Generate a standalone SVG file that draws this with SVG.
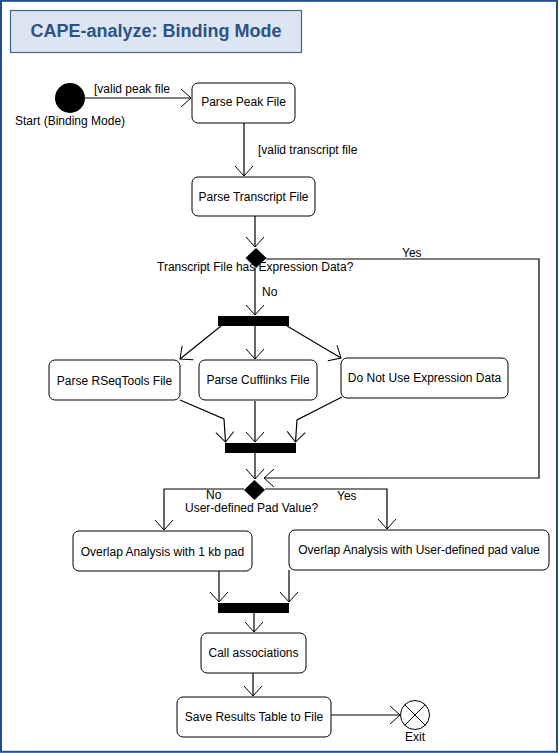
<svg xmlns="http://www.w3.org/2000/svg" width="559" height="753" viewBox="0 0 559 753">
<style>
.t{font-family:"Liberation Sans",Arial,sans-serif;font-size:12px;fill:#000}
.box{fill:#fff;stroke:#000;stroke-width:1}
.bar{fill:#000}
.ln{fill:none;stroke:#000;stroke-width:1.2}
</style>
<defs>
<marker id="ah" markerUnits="userSpaceOnUse" markerWidth="24" markerHeight="24" viewBox="-12 -12 24 24" refX="0" refY="0" orient="auto" overflow="visible">
<path d="M-10,-9 L0,0 L-10,9" fill="none" stroke="#000" stroke-width="1"/>
</marker>
</defs>
<rect x="0" y="0" width="559" height="753" fill="#fff"/>
<rect x="1" y="0.8" width="556" height="751" fill="none" stroke="#1f4e8c" stroke-width="2"/>
<g id="title">
<rect x="10.5" y="10.5" width="291" height="42" fill="#dce6f2" stroke="#44648f" stroke-width="1.2"/>
<text x="156" y="37" text-anchor="middle" font-family="Liberation Sans,Arial,sans-serif" font-size="18" font-weight="bold" fill="#2d5286">CAPE-analyze: Binding Mode</text>
</g>
<g id="connectors" class="ln">
<path d="M85,98 L191,98" marker-end="url(#ah)"/>
<path d="M244,123 L244,176" marker-end="url(#ah)"/>
<path d="M255,216 L255,247" marker-end="url(#ah)"/>
<path d="M255,268 L255,315" marker-end="url(#ah)"/>
<path d="M221,326 L180,359" marker-end="url(#ah)"/>
<path d="M255,326 L255,359" marker-end="url(#ah)"/>
<path d="M287,326 L341,358" marker-end="url(#ah)"/>
<path d="M180,400 L224,419 L225.5,442" marker-end="url(#ah)"/>
<path d="M255,401 L255,442" marker-end="url(#ah)"/>
<path d="M342,397 L297,420 L295.5,442" marker-end="url(#ah)"/>
<path d="M266,259 L539,259 L539,478 L264,478" marker-end="url(#ah)"/>
<path d="M255,453 L255,479" marker-end="url(#ah)"/>
<path d="M244,489 L164,489 L164,530" marker-end="url(#ah)"/>
<path d="M265,489 L387,489 L387,529" marker-end="url(#ah)"/>
<path d="M219,571 L219,602" marker-end="url(#ah)"/>
<path d="M289,570 L289,602" marker-end="url(#ah)"/>
<path d="M254,613 L254,632" marker-end="url(#ah)"/>
<path d="M253,673 L253,696" marker-end="url(#ah)"/>
<path d="M331,715 L400,715" marker-end="url(#ah)"/>
</g>
<g id="start">
<circle cx="70" cy="98" r="15" fill="#000"/>
<text class="t" x="15" y="124.5">Start (Binding Mode)</text>
</g>
<g id="label-valid-peak"><text class="t" x="94" y="92.5">[valid peak file</text></g>
<g id="parse-peak">
<rect class="box" x="192" y="83" width="103" height="40" rx="6"/>
<text class="t" x="243.5" y="106" text-anchor="middle">Parse Peak File</text>
</g>
<g id="label-valid-transcript"><text class="t" x="258" y="154">[valid transcript file</text></g>
<g id="parse-transcript">
<rect class="box" x="192" y="177" width="123" height="39" rx="6"/>
<text class="t" x="253.5" y="201" text-anchor="middle">Parse Transcript File</text>
</g>
<g id="decision-expression">
<polygon points="256,248 266.5,258 256,268 245.5,258" fill="#000"/>
<text class="t" x="157" y="271">Transcript File has Expression Data?</text>
<text class="t" x="262" y="295.5">No</text>
<text class="t" x="402" y="256.5">Yes</text>
</g>
<g id="fork1"><rect class="bar" x="218" y="316" width="71" height="10"/></g>
<g id="parse-rseqtools">
<rect class="box" x="49" y="360" width="131" height="40" rx="6"/>
<text class="t" x="114.5" y="384.5" text-anchor="middle">Parse RSeqTools File</text>
</g>
<g id="parse-cufflinks">
<rect class="box" x="199" y="360" width="118" height="40" rx="6"/>
<text class="t" x="258" y="384" text-anchor="middle">Parse Cufflinks File</text>
</g>
<g id="no-expression">
<rect class="box" x="341" y="358" width="167" height="40" rx="6"/>
<text class="t" x="424.5" y="382" text-anchor="middle">Do Not Use Expression Data</text>
</g>
<g id="join1"><rect class="bar" x="225" y="443" width="71" height="10"/></g>
<g id="decision-pad">
<polygon points="254.5,480 265,490 254.5,500 244,490" fill="#000"/>
<text class="t" x="206" y="499">No</text>
<text class="t" x="337" y="499.5">Yes</text>
<text class="t" x="185" y="511.5">User-defined Pad Value?</text>
</g>
<g id="overlap-1kb">
<rect class="box" x="73" y="531" width="179" height="40" rx="6"/>
<text class="t" x="162.5" y="556" text-anchor="middle">Overlap Analysis with 1 kb pad</text>
</g>
<g id="overlap-user">
<rect class="box" x="289" y="530" width="260" height="40" rx="6"/>
<text class="t" x="419" y="554" text-anchor="middle">Overlap Analysis with User-defined pad value</text>
</g>
<g id="join2"><rect class="bar" x="218" y="603" width="71" height="10"/></g>
<g id="call-associations">
<rect class="box" x="201" y="633" width="105" height="40" rx="6"/>
<text class="t" x="253.5" y="657" text-anchor="middle">Call associations</text>
</g>
<g id="save-results">
<rect class="box" x="177" y="697" width="154" height="40" rx="6"/>
<text class="t" x="254" y="720.5" text-anchor="middle">Save Results Table to File</text>
</g>
<g id="exit">
<circle cx="415" cy="715" r="14.5" fill="#fff" stroke="#000" stroke-width="1"/>
<path d="M404.7,704.7 L425.3,725.3 M425.3,704.7 L404.7,725.3" stroke="#000" stroke-width="1"/>
<text class="t" x="415" y="740.5" text-anchor="middle">Exit</text>
</g>
</svg>
